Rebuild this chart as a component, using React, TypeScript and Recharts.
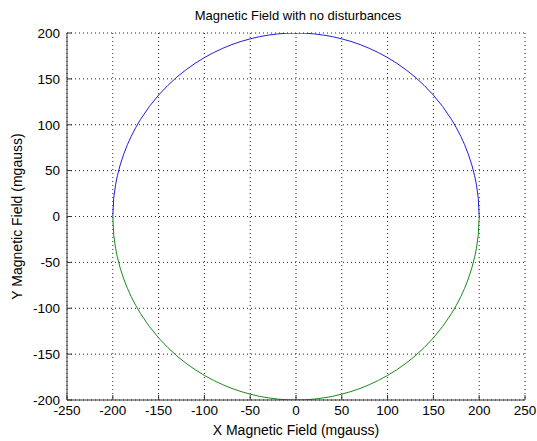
import React from 'react';
import { LineChart, Line, XAxis, YAxis, CartesianGrid, Label } from 'recharts';

// Sampled field readings (mgauss): X positions and matching Y for each half of the sweep
const xReadings = [
  -200, -199, -197, -195, -192, -188, -184, -180, -175, -170, -160, -150, -140, -130,
  -120, -110, -100, -90, -80, -70, -60, -50, -40, -30, -20, -10, 0,
  10, 20, 30, 40, 50, 60, 70, 80, 90, 100, 110, 120, 130, 140, 150, 160, 170, 175,
  180, 184, 188, 192, 195, 197, 199, 200,
];

const upperY = [
  0, 20.0, 34.5, 44.4, 56.0, 68.2, 78.4, 87.2, 96.8, 105.4, 120.0, 132.3, 142.8, 152.0,
  160.0, 167.0, 173.2, 178.6, 183.3, 187.4, 190.8, 193.6, 196.0, 197.7, 199.0, 199.8, 200,
  199.8, 199.0, 197.7, 196.0, 193.6, 190.8, 187.4, 183.3, 178.6, 173.2, 167.0, 160.0, 152.0,
  142.8, 132.3, 120.0, 105.4, 96.8, 87.2, 78.4, 68.2, 56.0, 44.4, 34.5, 20.0, 0,
];

const lowerY = [
  0, -20.0, -34.5, -44.4, -56.0, -68.2, -78.4, -87.2, -96.8, -105.4, -120.0, -132.3, -142.8,
  -152.0, -160.0, -167.0, -173.2, -178.6, -183.3, -187.4, -190.8, -193.6, -196.0, -197.7,
  -199.0, -199.8, -200, -199.8, -199.0, -197.7, -196.0, -193.6, -190.8, -187.4, -183.3,
  -178.6, -173.2, -167.0, -160.0, -152.0, -142.8, -132.3, -120.0, -105.4, -96.8, -87.2,
  -78.4, -68.2, -56.0, -44.4, -34.5, -20.0, 0,
];

const xTicks = [-250, -200, -150, -100, -50, 0, 50, 100, 150, 200, 250];
const yTicks = [-200, -150, -100, -50, 0, 50, 100, 150, 200];

const upperHalf = xReadings.map((x, i) => ({ x, y: upperY[i] }));
const lowerHalf = xReadings.map((x, i) => ({ x, y: lowerY[i] }));

const FONT = 'Arial, "Liberation Sans", sans-serif';
const tickStyle = { fontSize: 13.5, fill: '#000', fontFamily: FONT };
const labelStyle = { fontSize: 14, fill: '#000', fontFamily: FONT };

export default function App() {
  return (
    <div
      style={{
        position: 'fixed',
        left: 0,
        top: 0,
        width: 537,
        height: 441,
        background: '#fff',
        fontFamily: FONT,
      }}
    >
      <div
        style={{
          position: 'absolute',
          left: 0,
          width: 537,
          top: 8,
          textAlign: 'center',
          fontSize: 13,
          paddingLeft: 59,
          boxSizing: 'border-box',
          color: '#000',
        }}
      >
        Magnetic Field with no disturbances
      </div>
      <LineChart
        width={537}
        height={441}
        margin={{ top: 33, right: 12, bottom: 0, left: 0 }}
        style={{ position: 'absolute', left: 0, top: 0 }}
      >
        <CartesianGrid
          stroke="#222"
          strokeDasharray="1 3"
          horizontalValues={yTicks}
          verticalValues={xTicks}
        />
        <XAxis
          type="number"
          dataKey="x"
          domain={[-250, 250]}
          ticks={xTicks}
          interval={0}
          allowDataOverflow
          height={41}
          tickSize={-5}
          tickMargin={10}
          tick={tickStyle}
          stroke="#333"
        >
          <Label
            value="X Magnetic Field (mgauss)"
            position="insideBottom"
            offset={6}
            style={labelStyle}
          />
        </XAxis>
        <YAxis
          type="number"
          dataKey="y"
          domain={[-200, 200]}
          ticks={yTicks}
          interval={0}
          allowDataOverflow
          width={67}
          tickSize={-5}
          tickMargin={12}
          tick={tickStyle}
          stroke="#333"
        >
          <Label
            value="Y Magnetic Field (mgauss)"
            angle={-90}
            position="insideLeft"
            offset={17}
            style={{ ...labelStyle, textAnchor: 'middle' }}
          />
        </YAxis>
        <Line
          data={upperHalf}
          dataKey="y"
          type="linear"
          stroke="#1f1fd6"
          strokeWidth={1}
          dot={false}
          isAnimationActive={false}
        />
        <Line
          data={lowerHalf}
          dataKey="y"
          type="linear"
          stroke="#1a8a1a"
          strokeWidth={1}
          dot={false}
          isAnimationActive={false}
        />
      </LineChart>
    </div>
  );
}
